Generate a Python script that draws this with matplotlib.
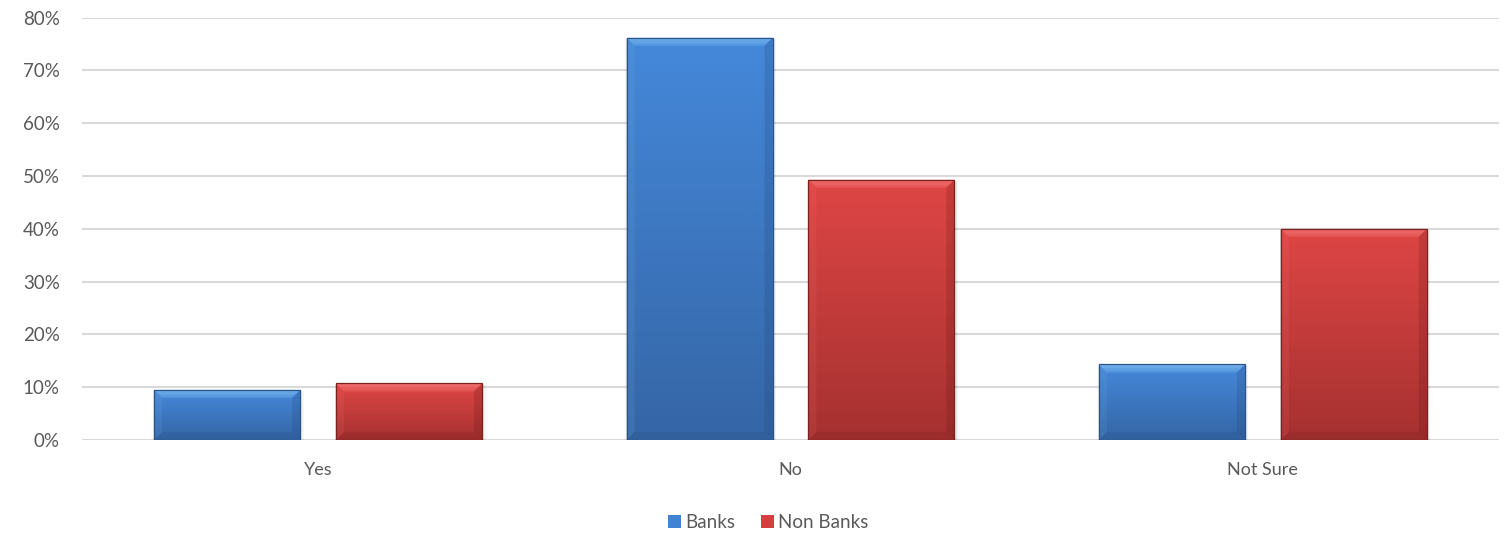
import numpy as np
import matplotlib.pyplot as plt
from matplotlib.patches import Polygon, Rectangle
from matplotlib.colors import LinearSegmentedColormap

categories = ['Yes', 'No', 'Not Sure']
banks = [9.5, 76.2, 14.3]
non_banks = [10.7, 49.3, 40.0]
yticks = [0, 10, 20, 30, 40, 50, 60, 70, 80]

plt.rcParams['font.family'] = ['Lato', 'DejaVu Sans']
text_color = '#595959'

fig = plt.figure(figsize=(15.12, 5.35), dpi=100)
ax = fig.add_axes([0.0542, 0.1776, 0.9372, 0.7894])

x = np.arange(len(categories))
width = 0.309
off = 0.1925

b1 = ax.bar(x - off, banks, width, color='#4282d3', label='Banks', zorder=2)
b2 = ax.bar(x + off, non_banks, width, color='#d24140', label='Non Banks', zorder=2)

ax.set_xlim(-0.5, 2.5)
ax.set_ylim(0, 80)

# size of one pixel in data units, for the bevel
px_x = 3.0 / (0.9372 * 1512)
px_y = 80.0 / (0.7894 * 535)


def bevel(rect, top, bottom, light, dark, edge):
    x0, y0 = rect.get_x(), rect.get_y()
    w, h = rect.get_width(), rect.get_height()
    x1, y1 = x0 + w, y0 + h
    # soft shadow
    for k, a in [(4, 0.04), (2.5, 0.06), (1.2, 0.08)]:
        ax.add_patch(Rectangle((x0 - k * px_x * 0.3, y0 - k * px_y), w + k * px_x * 1.2, h + k * px_y * 0.6,
                               facecolor='black', alpha=a, lw=0, zorder=1.5))
    grad = np.linspace(0, 1, 128).reshape(-1, 1)
    cmap = LinearSegmentedColormap.from_list('bar', [top, bottom])
    im = ax.imshow(grad, extent=(x0, x1, y0, y1), origin='upper', cmap=cmap,
                   aspect='auto', zorder=2.1, interpolation='bilinear')
    im.set_clip_path(rect)
    dx = 8 * px_x
    dy = min(8 * px_y, h / 2)
    # top highlight fades downward
    steps = 6
    for i in range(steps):
        t0 = i / steps
        t1 = (i + 1) / steps
        ax.add_patch(Polygon([(x0 + dx * t0, y1 - dy * t0), (x1 - dx * t0, y1 - dy * t0),
                              (x1 - dx * t1, y1 - dy * t1), (x0 + dx * t1, y1 - dy * t1)],
                             closed=True, facecolor=light, lw=0, alpha=0.85 - 0.1 * i, zorder=2.2))
    ax.add_patch(Polygon([(x0, y0), (x0, y1), (x0 + dx, y1 - dy), (x0 + dx, y0 + dy)],
                         closed=True, facecolor=light, lw=0, alpha=0.12, zorder=2.2))
    ax.add_patch(Polygon([(x1, y0), (x1, y1), (x1 - dx, y1 - dy), (x1 - dx, y0 + dy)],
                         closed=True, facecolor=dark, lw=0, alpha=0.2, zorder=2.2))
    ax.add_patch(Polygon([(x0, y0), (x1, y0), (x1 - dx, y0 + dy), (x0 + dx, y0 + dy)],
                         closed=True, facecolor=dark, lw=0, alpha=0.15, zorder=2.2))
    ax.add_patch(Rectangle((x0, y0), w, h, fill=False, edgecolor=edge, lw=0.9, zorder=2.3))


for r in b1:
    bevel(r, '#4588da', '#3566a6', '#7cbcf2', '#1f3f6e', '#2c5488')
for r in b2:
    bevel(r, '#de4645', '#a53130', '#f47a78', '#5e1414', '#7a2222')

ax.set_xlim(-0.5, 2.5)
ax.set_ylim(0, 80)

ax.set_yticks(yticks)
ax.set_yticklabels([f'{v}%' for v in yticks])
ax.set_xticks(x)
ax.set_xticklabels(categories)
ax.tick_params(axis='y', length=0, pad=16, labelsize=13.5, labelcolor=text_color)
ax.tick_params(axis='x', length=0, pad=16, labelsize=13, labelcolor=text_color)

ax.grid(axis='y', color='#d9d9d9', lw=1.5, zorder=0)
ax.set_axisbelow(True)
for s in ax.spines.values():
    s.set_visible(False)

leg = fig.legend(handles=[b1, b2], labels=['Banks', 'Non Banks'], loc='center',
                 bbox_to_anchor=(0.508, 0.023), ncol=2, frameon=False,
                 fontsize=13.5, handlelength=0.7, handleheight=0.7,
                 handletextpad=0.2, columnspacing=1.4, labelcolor=text_color)

fig.savefig('out.png', dpi=100)
